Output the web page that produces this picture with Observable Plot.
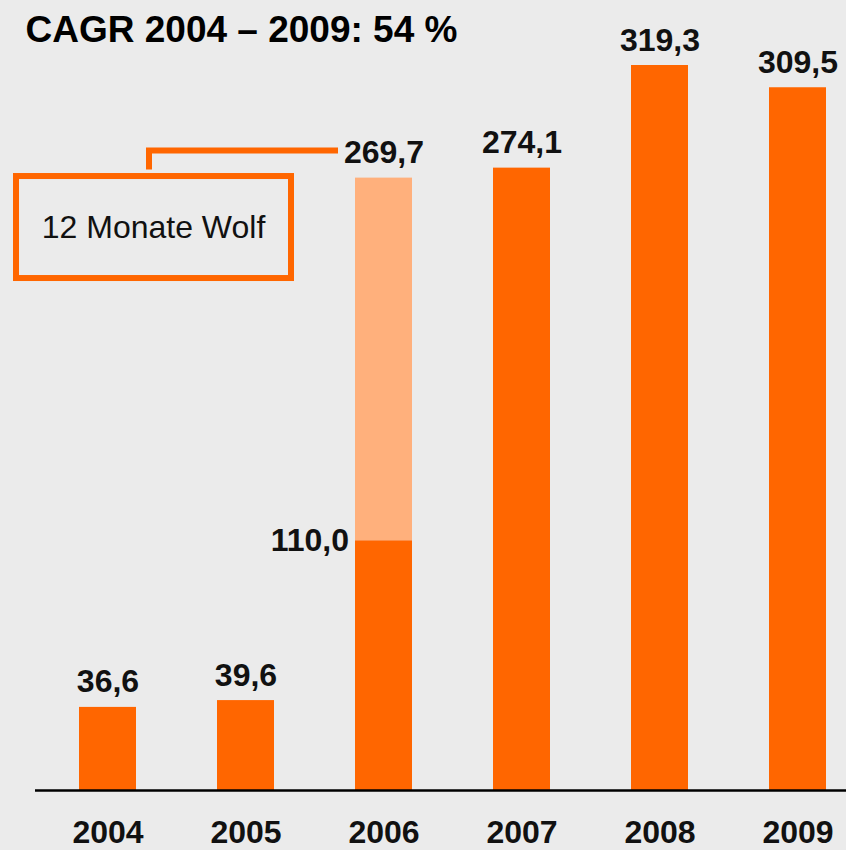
<!DOCTYPE html>
<html><head><meta charset="utf-8">
<script src="https://cdn.jsdelivr.net/npm/d3@7"></script>
<script src="https://cdn.jsdelivr.net/npm/@observablehq/plot@0.6"></script>
<style>
html,body{margin:0;padding:0;background:#ebebeb;}
#chart svg{display:block;}
</style></head><body><div id="chart"></div>
<script>
const title = "CAGR 2004 – 2009: 54 %";
const years = ["2004", "2005", "2006", "2007", "2008", "2009"];
const reported = [36.6, 39.6, 110.0, 274.1, 319.3, 309.5];
const totals = [36.6, 39.6, 269.7, 274.1, 319.3, 309.5];
const calloutText = "12 Monate Wolf";
const calloutYear = "2006";

const dark = "#ff6600", light = "#ffb07c";
const font = "'Liberation Sans', Arial, Helvetica, sans-serif";
const fmt = v => d3.format(".1f")(v).replace(".", ",");

const barsBase = years.map((year, i) => ({year, y1: 0, y2: reported[i]}));
const barsExtra = years.map((year, i) => ({year, y1: reported[i], y2: totals[i]})).filter(d => d.y2 > d.y1);
const labelsTop = years.map((year, i) => ({year, value: totals[i]}));
const labelsInner = barsExtra.map(d => ({year: d.year, value: d.y1}));

function callout(index, scales, values, dimensions) {
  const {x, y} = scales;
  const i = years.indexOf(calloutYear);
  const yTop = y(totals[i]);
  const left = dimensions.marginLeft - 19, w = 275, h = 102;
  const g = d3.create("svg:g");
  g.append("rect").attr("x", left).attr("y", yTop - 1.6).attr("width", w).attr("height", h)
    .attr("fill", "none").attr("stroke", dark).attr("stroke-width", 6);
  g.append("path").attr("d", `M${left + 133},${yTop - 8}V${yTop - 27}H${x(calloutYear) - 17}`)
    .attr("fill", "none").attr("stroke", dark).attr("stroke-width", 6);
  g.append("text").attr("x", left + w / 2).attr("y", yTop + 60).attr("text-anchor", "middle")
    .attr("font-size", 32).attr("font-family", font).attr("fill", "#111").text(calloutText);
  return g.node();
}

const chart = Plot.plot({
  width: 846,
  height: 850,
  marginLeft: 35,
  marginRight: 0,
  marginTop: 18,
  marginBottom: 60,
  style: {background: "#ebebeb", fontFamily: font, color: "#000"},
  x: {domain: years, paddingInner: 0.588, paddingOuter: 0.224, align: 0.685, label: null},
  y: {domain: [0, 340], axis: null},
  marks: [
    Plot.rectY(barsBase, {x: "year", y1: "y1", y2: "y2", fill: dark}),
    Plot.rectY(barsExtra, {x: "year", y1: "y1", y2: "y2", fill: light}),
    Plot.ruleY([0], {stroke: "#000", strokeWidth: 2.5}),
    Plot.axisX({tickSize: 0, tickPadding: 30, fontSize: 32, fontWeight: "bold", fill: "#111", label: null}),
    Plot.text(labelsTop, {x: "year", y: "value", text: d => fmt(d.value), lineAnchor: "bottom", dy: -15,
      fontSize: 32, fontWeight: "bold", fill: "#111"}),
    Plot.text(labelsInner, {x: "year", y: "value", text: d => fmt(d.value), textAnchor: "end", lineAnchor: "middle", dx: -35,
      fontSize: 32, fontWeight: "bold", fill: "#111"}),
    Plot.text([title], {frameAnchor: "top-left", textAnchor: "start", lineAnchor: "top", dx: -10, dy: -3,
      fontSize: 37, fontWeight: "bold", fill: "#000"}),
    callout
  ]
});
document.getElementById("chart").append(chart);
</script></body></html>
